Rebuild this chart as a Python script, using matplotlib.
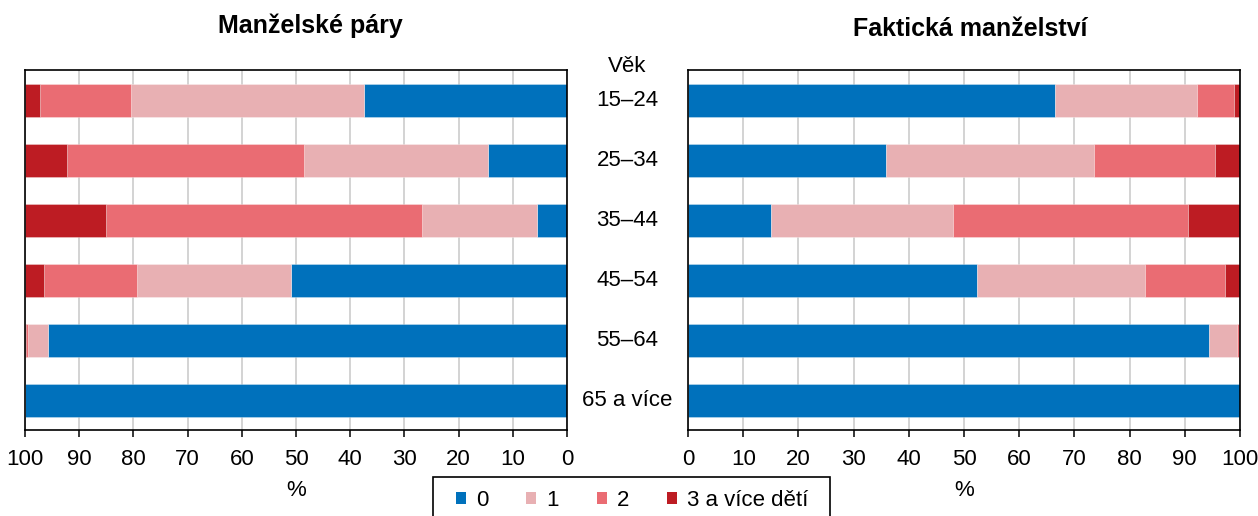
import matplotlib
matplotlib.use("Agg")
import matplotlib.pyplot as plt
import numpy as np
from matplotlib.patches import Patch, Rectangle
from matplotlib.transforms import blended_transform_factory

plt.rcParams["font.family"] = ["Liberation Sans", "DejaVu Sans"]

# --- data (shares in %, by number of children) ------------------------------
ages = ["15–24", "25–34", "35–44", "45–54", "55–64", "65 a více"]
series_names = ["0", "1", "2", "3 a více dětí"]

# Manželské páry
married_0 = [37.4, 14.5, 5.5, 51.0, 95.8, 100.0]
married_1 = [43.1, 34.1, 21.2, 28.3, 3.6, 0.0]
married_2 = [16.8, 43.7, 58.4, 17.2, 0.5, 0.0]
married_3 = [2.7, 7.7, 14.9, 3.5, 0.1, 0.0]

# Faktická manželství
cohab_0 = [66.5, 35.9, 15.1, 52.4, 94.4, 100.0]
cohab_1 = [25.7, 37.7, 32.9, 30.3, 5.1, 0.0]
cohab_2 = [6.8, 21.8, 42.5, 14.6, 0.4, 0.0]
cohab_3 = [1.0, 4.6, 9.5, 2.7, 0.1, 0.0]

colors = ["#0071bc", "#e8b0b3", "#ea6c73", "#bd1c23"]

W, H = 1258, 516
fig = plt.figure(figsize=(W / 100, H / 100), dpi=100)

ax_l = fig.add_axes([25 / W, 1 - 430 / H, 542 / W, 360 / H])
ax_r = fig.add_axes([688 / W, 1 - 430 / H, 552 / W, 360 / H])


def draw_panel(ax, parts, title, title_x, title_y):
    y = np.arange(len(ages))
    left = np.zeros(len(ages))
    for vals, c in zip(parts, colors):
        vals = np.asarray(vals)
        ax.barh(y, vals, left=left, height=0.55, color=c,
                edgecolor=(1, 1, 1, 0.35), linewidth=0.6, zorder=2)
        left += vals
    ax.set_ylim(len(ages) - 0.5, -0.5)
    ax.set_yticks([])
    ax.set_xticks(np.arange(0, 101, 10))
    ax.grid(axis="x", color="#c8c8c8", linewidth=1.1, zorder=0)
    ax.set_axisbelow(True)
    ax.tick_params(axis="x", length=5, width=1.1, pad=9, labelsize=16)
    for s in ax.spines.values():
        s.set_linewidth(1.2)
        s.set_color("black")
    ax.set_xlabel("%", fontsize=16, labelpad=7)
    fig.text(title_x / W, 1 - title_y / H, title,
             ha="center", va="center", fontsize=18, fontweight="bold")


draw_panel(ax_l, [married_0, married_1, married_2, married_3],
           "Manželské páry", 310, 26)
ax_l.set_xlim(100, 0)
draw_panel(ax_r, [cohab_0, cohab_1, cohab_2, cohab_3],
           "Faktická manželství", 970, 29)
ax_r.set_xlim(0, 100)

# age labels between the panels
tr = blended_transform_factory(fig.transFigure, ax_l.transData)
xmid = 627.5 / W
for i, a in enumerate(ages):
    fig.text(xmid, i, a, transform=tr, ha="center", va="center", fontsize=16)
fig.text(xmid, -0.56, "Věk", transform=tr, ha="center", va="center", fontsize=16)

# legend (box runs off the bottom edge, as in the original)
handles = [Patch(facecolor=c, edgecolor="none") for c in colors]
fig.legend(handles, series_names, ncol=4, frameon=False, fontsize=16,
           loc="center", bbox_to_anchor=(632 / W, 1 - 500 / H),
           handlelength=0.45, handleheight=0.45, handletextpad=0.45,
           columnspacing=1.7)
fig.patches.append(Rectangle((433 / W, -0.05), (830 - 433) / W, (1 - 477 / H) + 0.05,
                             transform=fig.transFigure, fill=False,
                             edgecolor="black", linewidth=1.2))

fig.savefig("out.png", dpi=100)
